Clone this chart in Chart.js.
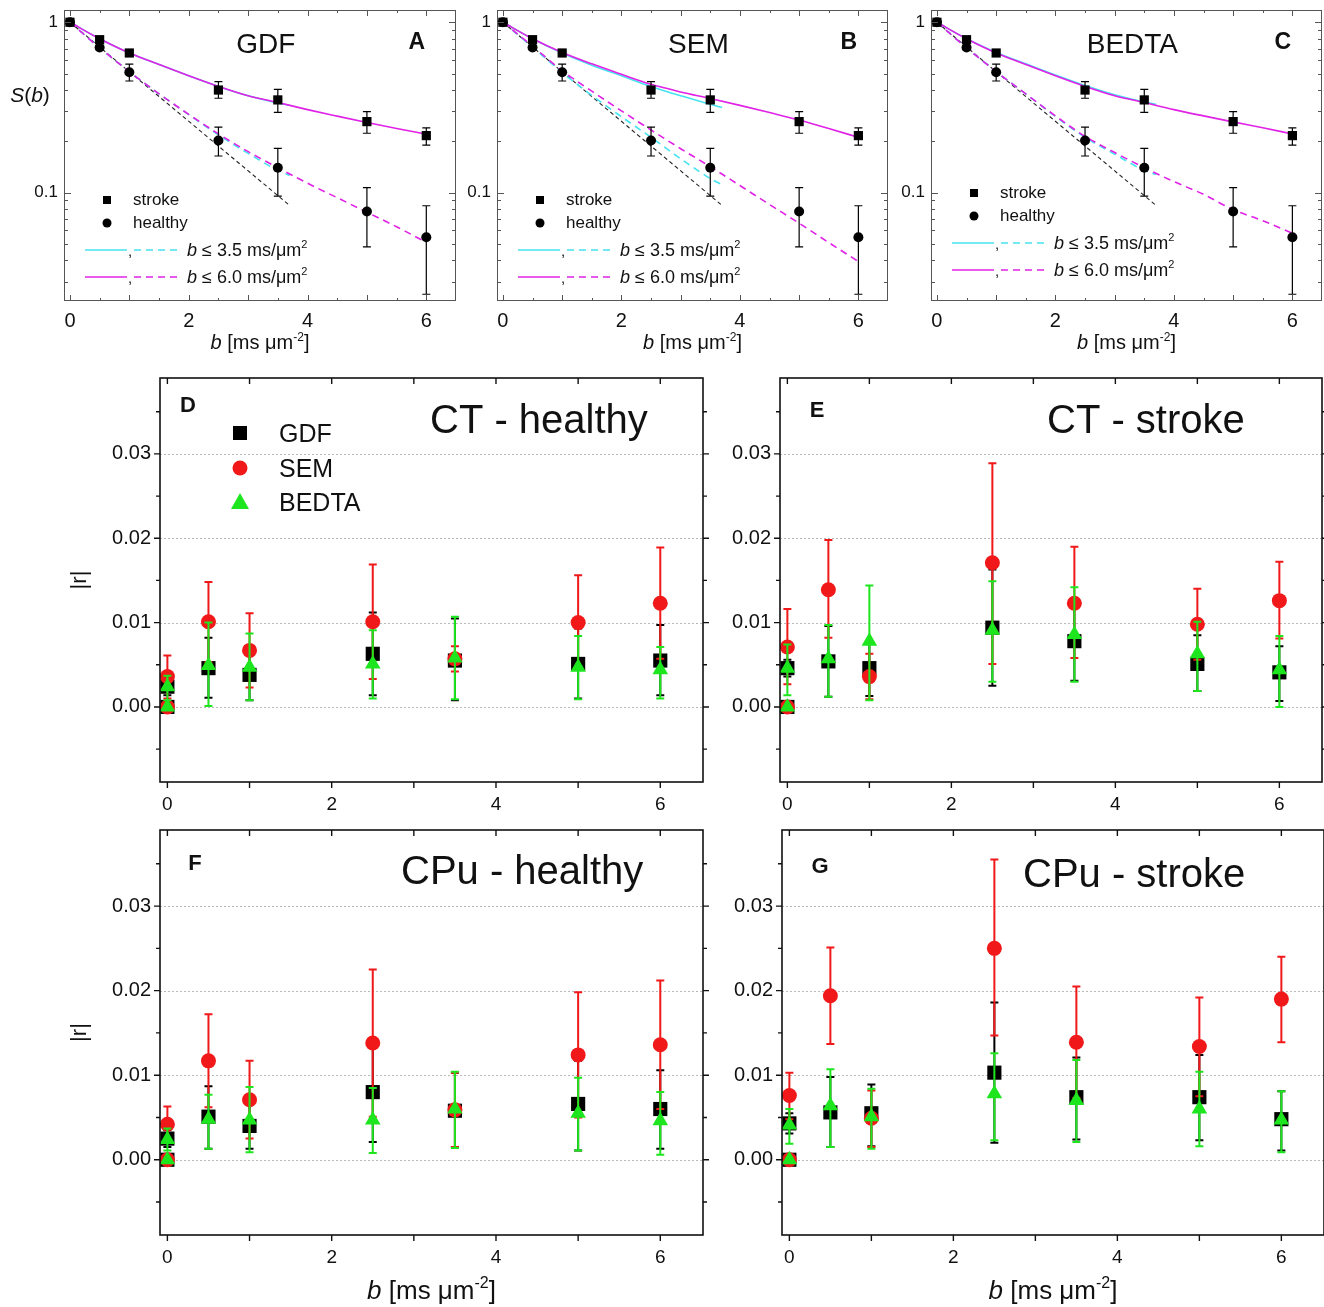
<!doctype html>
<html>
<head>
<meta charset="utf-8">
<title>S(b) fits and |r| per b-value</title>
<script src="https://cdn.jsdelivr.net/npm/chart.js@4.4.0/dist/chart.umd.min.js"></script>
<style>
  body { margin: 0; background: #fff; }
  .panel { position: absolute; }
</style>
</head>
<body>
<div class="panel" style="left:0px;top:0px"><canvas id="cA" width="460" height="360"></canvas></div>
<div class="panel" style="left:460px;top:0px"><canvas id="cB" width="430" height="360"></canvas></div>
<div class="panel" style="left:890px;top:0px"><canvas id="cC" width="434" height="360"></canvas></div>
<div class="panel" style="left:60px;top:370px"><canvas id="cD" width="650" height="455"></canvas></div>
<div class="panel" style="left:710px;top:370px"><canvas id="cE" width="614" height="455"></canvas></div>
<div class="panel" style="left:60px;top:825px"><canvas id="cF" width="650" height="482"></canvas></div>
<div class="panel" style="left:710px;top:825px"><canvas id="cG" width="614" height="482"></canvas></div>
<script>
var FONT = '"Liberation Sans", Arial, Helvetica, sans-serif';
var CYAN = '#45e3f0';
var MAGENTA = '#e022e6';
var RED = '#f01818';
var GREEN = '#1ee61e';

// ---- top row: signal S(b), measured points (same in A, B, C)
var bValues = [0, 0.5, 1, 2.5, 3.5, 5, 6];
var strokeS = [1, 0.79, 0.66, 0.40, 0.35, 0.261, 0.216];
var strokeLo = [1, 0.77, 0.64, 0.358, 0.296, 0.223, 0.19];
var strokeHi = [1, 0.81, 0.68, 0.448, 0.404, 0.299, 0.24];
var healthyS = [1, 0.71, 0.509, 0.202, 0.140, 0.0774, 0.0547];
var healthyLo = [1, 0.69, 0.452, 0.164, 0.0954, 0.048, 0.0253];
var healthyHi = [1, 0.73, 0.567, 0.242, 0.182, 0.107, 0.0837];

// fitted curves
var fitB6 = [0, 0.5, 1, 1.5, 2, 2.5, 3, 3.5, 4, 4.5, 5, 5.5, 6];
var fitB35 = [0, 0.5, 1, 1.5, 2, 2.5, 3, 3.5, 3.7];
var gdfStroke6 = [1, 0.80, 0.66, 0.565, 0.485, 0.42, 0.37, 0.338, 0.307, 0.281, 0.258, 0.238, 0.22];
var gdfStroke35 = [1, 0.80, 0.66, 0.565, 0.485, 0.42, 0.37, 0.336, 0.325];
var gdfHealthy6 = [1, 0.708, 0.513, 0.38, 0.288, 0.221, 0.174, 0.14, 0.1135, 0.0933, 0.0767, 0.063, 0.051];
var gdfHealthy35 = [1, 0.708, 0.513, 0.38, 0.287, 0.218, 0.170, 0.135, 0.126];
var semStroke6 = [1, 0.80, 0.665, 0.57, 0.495, 0.432, 0.39, 0.357, 0.325, 0.295, 0.267, 0.238, 0.211];
var semStroke35 = [1, 0.80, 0.66, 0.56, 0.485, 0.42, 0.37, 0.33, 0.316];
var semHealthy6 = [1, 0.724, 0.519, 0.394, 0.302, 0.233, 0.181, 0.142, 0.110, 0.0851, 0.0661, 0.0509, 0.0394];
var semHealthy35 = [1, 0.716, 0.507, 0.372, 0.279, 0.211, 0.158, 0.121, 0.111];
var bedStroke6 = [1, 0.80, 0.66, 0.565, 0.485, 0.42, 0.37, 0.338, 0.307, 0.282, 0.26, 0.24, 0.221];
var bedStroke35 = [1, 0.80, 0.665, 0.57, 0.49, 0.425, 0.375, 0.34, 0.33];
var bedHealthy6 = [1, 0.708, 0.513, 0.38, 0.282, 0.214, 0.172, 0.14, 0.116, 0.0977, 0.0794, 0.0684, 0.0578];
var bedHealthy35 = [1, 0.708, 0.513, 0.38, 0.28, 0.211, 0.168, 0.135, 0.128];
var monoB = [0, 3.7];
var monoS = [1, 0.084];

var bTicks = [0, 2, 4, 6];
var sTicks = [0.1, 1];

// ---- bottom panels: |r| per b-value (two points at b = 0)
var bR = [0, 0, 0.5, 1, 2.5, 3.5, 5, 6];
var rTicks = [0, 0.01, 0.02, 0.03];
var rMinor = [-0.005, 0.005, 0.015, 0.025, 0.035];

var gdfCTh = [0, 0.0024, 0.0046, 0.0038, 0.0063, 0.0055, 0.0051, 0.0055];
var gdfCThLo = [0, 0.0014, 0.0011, 0.0008, 0.0014, 0.0008, 0.0010, 0.0014];
var gdfCThHi = [0, 0.0034, 0.0082, 0.0071, 0.0112, 0.0105, 0.0093, 0.0097];
var semCTh = [0, 0.0036, 0.0101, 0.0067, 0.0101, 0.0057, 0.0100, 0.0123];
var semCThLo = [0, 0.0010, 0.0053, 0.0023, 0.0033, 0.0042, 0.0044, 0.0057];
var semCThHi = [0, 0.0061, 0.0148, 0.0111, 0.0169, 0.0072, 0.0156, 0.0189];
var bedCTh = [0, 0.0024, 0.0049, 0.0047, 0.0051, 0.0058, 0.0047, 0.0044];
var bedCThLo = [0, 0.0008, 0.0001, 0.0008, 0.0010, 0.0009, 0.0009, 0.0010];
var bedCThHi = [0, 0.0037, 0.0100, 0.0087, 0.0091, 0.0107, 0.0084, 0.0071];

var gdfCTs = [0, 0.0046, 0.0054, 0.0046, 0.0094, 0.0078, 0.0051, 0.0041];
var gdfCTsLo = [0, 0.0036, 0.0012, 0.0013, 0.0025, 0.0031, 0.0019, 0.0007];
var gdfCTsHi = [0, 0.0056, 0.0096, 0.0075, 0.0163, 0.0125, 0.0085, 0.0072];
var semCTs = [0, 0.0071, 0.0139, 0.0036, 0.0171, 0.0123, 0.0098, 0.0126];
var semCTsLo = [0, 0.0027, 0.0082, 0.0009, 0.0051, 0.0058, 0.0056, 0.0081];
var semCTsHi = [0, 0.0116, 0.0198, 0.0063, 0.0289, 0.0190, 0.0140, 0.0172];
var bedCTs = [0, 0.0046, 0.0057, 0.0078, 0.0091, 0.0086, 0.0063, 0.0044];
var bedCTsLo = [0, 0.0014, 0.0012, 0.0008, 0.0030, 0.0030, 0.0019, 0.0000];
var bedCTsHi = [0, 0.0074, 0.0097, 0.0144, 0.0149, 0.0142, 0.0101, 0.0084];

var gdfCPh = [0, 0.0025, 0.0051, 0.0040, 0.0080, 0.0058, 0.0066, 0.0060];
var gdfCPhLo = [0, 0.0015, 0.0013, 0.0013, 0.0021, 0.0015, 0.0011, 0.0013];
var gdfCPhHi = [0, 0.0035, 0.0087, 0.0074, 0.0139, 0.0103, 0.0117, 0.0106];
var semCPh = [0, 0.0042, 0.0117, 0.0071, 0.0138, 0.0059, 0.0124, 0.0136];
var semCPhLo = [0, 0.0021, 0.0062, 0.0025, 0.0051, 0.0015, 0.0050, 0.0060];
var semCPhHi = [0, 0.0063, 0.0172, 0.0117, 0.0225, 0.0103, 0.0198, 0.0212];
var bedCPh = [0, 0.0024, 0.0048, 0.0047, 0.0047, 0.0060, 0.0055, 0.0046];
var bedCPhLo = [0, 0.0011, 0.0013, 0.0009, 0.0008, 0.0014, 0.0011, 0.0006];
var bedCPhHi = [0, 0.0037, 0.0077, 0.0086, 0.0085, 0.0104, 0.0097, 0.0080];

var gdfCPs = [0, 0.0043, 0.0056, 0.0055, 0.0103, 0.0074, 0.0074, 0.0048];
var gdfCPsLo = [0, 0.0031, 0.0015, 0.0016, 0.0020, 0.0024, 0.0023, 0.0011];
var gdfCPsHi = [0, 0.0055, 0.0098, 0.0089, 0.0186, 0.0121, 0.0124, 0.0081];
var semCPs = [0, 0.0076, 0.0194, 0.0049, 0.0250, 0.0139, 0.0134, 0.0190];
var semCPsLo = [0, 0.0048, 0.0137, 0.0015, 0.0147, 0.0073, 0.0075, 0.0139];
var semCPsHi = [0, 0.0103, 0.0251, 0.0082, 0.0355, 0.0205, 0.0192, 0.0240];
var bedCPs = [0, 0.0041, 0.0064, 0.0051, 0.0078, 0.0070, 0.0060, 0.0047];
var bedCPsLo = [0, 0.0019, 0.0015, 0.0013, 0.0023, 0.0021, 0.0016, 0.0009];
var bedCPsHi = [0, 0.0060, 0.0107, 0.0084, 0.0126, 0.0118, 0.0104, 0.0081];

// ---- helpers
function pts(xs, ys) {
  return xs.map(function(x, i) { return {x: x, y: ys[i]}; });
}

function curve(xs, ys, color, dash, order, width) {
  return {
    type: 'line', data: pts(xs, ys), borderColor: color, borderWidth: width || 1.6,
    borderDash: dash, pointRadius: 0, pointHoverRadius: 0, fill: false,
    cubicInterpolationMode: 'monotone', order: order
  };
}

function marks(xs, ys, lo, hi, style, radius, color, order) {
  return {
    type: 'scatter', data: pts(xs, ys), pointStyle: style, pointRadius: radius,
    pointHoverRadius: radius, backgroundColor: color, borderColor: color, borderWidth: 0,
    errLo: lo, errHi: hi, errColor: color, order: order, clip: false
  };
}

function errorBars(capHalf, lw) {
  return {
    id: 'errorBars',
    beforeDatasetDraw: function(chart, args) {
      var ds = chart.data.datasets[args.index];
      if (!ds.errLo) return;
      var ctx = chart.ctx, xs = chart.scales.x, ys = chart.scales.y, a = chart.chartArea;
      ctx.save();
      ctx.beginPath();
      ctx.rect(a.left, a.top, a.right - a.left, a.bottom - a.top);
      ctx.clip();
      ctx.strokeStyle = ds.errColor;
      ctx.lineWidth = lw;
      ds.data.forEach(function(p, i) {
        var lo = ds.errLo[i], hi = ds.errHi[i];
        if (lo === hi) return;
        var x = xs.getPixelForValue(p.x), y1 = ys.getPixelForValue(lo), y2 = ys.getPixelForValue(hi);
        ctx.beginPath();
        ctx.moveTo(x, y1); ctx.lineTo(x, y2);
        ctx.moveTo(x - capHalf, y1); ctx.lineTo(x + capHalf, y1);
        ctx.moveTo(x - capHalf, y2); ctx.lineTo(x + capHalf, y2);
        ctx.stroke();
      });
      ctx.restore();
    }
  };
}

// runs: [text, size, style, dy]
function drawRuns(ctx, runs, x, y, align) {
  var total = 0;
  runs.forEach(function(r) {
    ctx.font = (r[2] || '') + ' ' + r[1] + 'px ' + FONT;
    r.w = ctx.measureText(r[0]).width;
    total += r.w;
  });
  var cx = align === 'center' ? x - total / 2 : x;
  ctx.textAlign = 'left';
  ctx.textBaseline = 'alphabetic';
  runs.forEach(function(r) {
    ctx.font = (r[2] || '') + ' ' + r[1] + 'px ' + FONT;
    ctx.fillText(r[0], cx, y + (r[3] || 0));
    cx += r.w;
  });
}

function bTitle(size) {
  return [['b', size, 'italic'], [' [ms \u03bcm', size], ['-2', Math.round(size * 0.62), '', -size * 0.42], [']', size]];
}

function text(ctx, t, x, y, size, weight, align) {
  ctx.font = (weight || '') + ' ' + size + 'px ' + FONT;
  ctx.textAlign = align || 'left';
  ctx.textBaseline = 'middle';
  ctx.fillText(t, x, y);
}

// fixed axis sizes so every plot frame lands where the figure has it
function fixY(w) {
  return function(s) { s.width = w; s.paddingTop = 0; s.paddingBottom = 0; };
}
function fixX(h) {
  return function(s) { s.height = h; s.paddingLeft = 0; s.paddingRight = 0; };
}

// ---- top row panels
function topDecor(p) {
  return {
    id: 'decor',
    afterDraw: function(chart) {
      var ctx = chart.ctx, a = chart.chartArea, xs = chart.scales.x, ys = chart.scales.y;
      var w = a.right - a.left, h = a.bottom - a.top;
      ctx.save();
      ctx.strokeStyle = '#555';
      ctx.lineWidth = 1;
      ctx.strokeRect(Math.round(a.left) + 0.5, Math.round(a.top) + 0.5, Math.round(w) - 1, Math.round(h) - 1);
      ctx.beginPath();
      for (var v = 0; v <= 6; v += 0.5) {
        var px = Math.round(xs.getPixelForValue(v)) + 0.5, len = (v % 1 === 0) ? 6 : 3;
        ctx.moveTo(px, a.bottom); ctx.lineTo(px, a.bottom - len);
        ctx.moveTo(px, a.top); ctx.lineTo(px, a.top + len);
      }
      for (var d = 0.01; d < 2; d *= 10) {
        for (var k = 1; k <= 9; k++) {
          var val = d * k;
          if (val < ys.min || val > ys.max) continue;
          var py = Math.round(ys.getPixelForValue(val)) + 0.5, l2 = k === 1 ? 7 : 4;
          ctx.moveTo(a.left, py); ctx.lineTo(a.left + l2, py);
          ctx.moveTo(a.right, py); ctx.lineTo(a.right - l2, py);
        }
      }
      ctx.stroke();

      ctx.fillStyle = '#111';
      text(ctx, p.title, a.left + 0.515 * w, a.top + 35, 28, '', 'center');
      text(ctx, p.letter, a.left + 0.90 * w, a.top + 33, 23, 'bold', 'center');
      drawRuns(ctx, bTitle(20), (a.left + a.right) / 2, a.bottom + 48, 'center');
      if (p.yTitle) {
        drawRuns(ctx, [['S', 21, 'italic'], ['(', 21], ['b', 21, 'italic'], [')', 21]], 30, 102, 'center');
      }

      // legend
      var lx = a.left + 43, ly = a.top + p.legendDy;
      ctx.fillStyle = '#000';
      ctx.fillRect(lx - 4, ly - 4, 8, 8);
      ctx.beginPath(); ctx.arc(lx, ly + 23, 4.5, 0, Math.PI * 2); ctx.fill();
      ctx.fillStyle = '#111';
      text(ctx, 'stroke', lx + 26, ly, 17);
      text(ctx, 'healthy', lx + 26, ly + 23, 17);
      [[CYAN, '3.5', 50], [MAGENTA, '6.0', 77]].forEach(function(row) {
        var yy = ly + row[2];
        ctx.strokeStyle = row[0];
        ctx.lineWidth = 1.6;
        ctx.setLineDash([]);
        ctx.beginPath(); ctx.moveTo(lx - 22, yy); ctx.lineTo(lx + 20, yy); ctx.stroke();
        ctx.setLineDash([7, 5]);
        ctx.beginPath(); ctx.moveTo(lx + 27, yy); ctx.lineTo(lx + 70, yy); ctx.stroke();
        ctx.setLineDash([]);
        ctx.fillStyle = '#111';
        text(ctx, ',', lx + 21, yy + 2, 15);
        drawRuns(ctx, [['b', 18, 'italic'], [' \u2264 ' + row[1] + ' ms/\u03bcm', 18], ['2', 11, '', -8]], lx + 80, yy + 6, 'left');
      });
      ctx.restore();
    }
  };
}

function topChart(id, lay, fits, p) {
  var datasets = [
    curve(monoB, monoS, '#222', [4, 3], 6, 1.1),
    curve(fitB35, fits.s35, CYAN, [], 5),
    curve(fitB35, fits.h35, CYAN, [7, 5], 5),
    curve(fitB6, fits.s6, MAGENTA, [], 4),
    curve(fitB6, fits.h6, MAGENTA, [7, 5], 4),
    marks(bValues, healthyS, healthyLo, healthyHi, 'circle', 5, '#000', 1),
    marks(bValues, strokeS, strokeLo, strokeHi, 'rect', 6.5, '#000', 0)
  ];
  return new Chart(document.getElementById(id).getContext('2d'), {
    type: 'scatter',
    data: {datasets: datasets},
    options: {
      responsive: false, animation: false, events: [],
      layout: {autoPadding: false, padding: {top: lay.top, right: lay.right, left: 0, bottom: 0}},
      plugins: {legend: {display: false}, tooltip: {enabled: false}},
      scales: {
        x: {
          type: 'linear', min: -0.1, max: 6.5,
          afterBuildTicks: function(s) { s.ticks = bTicks.map(function(v) { return {value: v}; }); },
          afterFit: fixX(lay.xH),
          grid: {display: false, drawTicks: false, tickLength: 0},
          border: {display: false},
          ticks: {font: {family: FONT, size: 20}, color: '#111', padding: 8, maxRotation: 0,
            callback: function(v) { return String(v); }}
        },
        y: {
          type: 'logarithmic', min: 0.0231, max: 1.18,
          afterBuildTicks: function(s) { s.ticks = sTicks.map(function(v) { return {value: v}; }); },
          afterFit: fixY(lay.yW),
          grid: {display: false, drawTicks: false, tickLength: 0},
          border: {display: false},
          ticks: {font: {family: FONT, size: 17}, color: '#111', padding: 6,
            callback: function(v) { return String(v); }}
        }
      }
    },
    plugins: [errorBars(4, 1.2), topDecor(p)]
  });
}

// ---- |r| panels
function rDecor(p) {
  return {
    id: 'decor',
    beforeDatasetsDraw: function(chart) {
      var ctx = chart.ctx, a = chart.chartArea, ys = chart.scales.y;
      ctx.save();
      ctx.strokeStyle = '#b8b8b8';
      ctx.lineWidth = 1;
      ctx.setLineDash([2, 2]);
      rTicks.forEach(function(v) {
        var py = Math.round(ys.getPixelForValue(v)) + 0.5;
        ctx.beginPath(); ctx.moveTo(a.left, py); ctx.lineTo(a.right, py); ctx.stroke();
      });
      ctx.restore();
    },
    afterDraw: function(chart) {
      var ctx = chart.ctx, a = chart.chartArea, xs = chart.scales.x, ys = chart.scales.y;
      var w = a.right - a.left;
      ctx.save();
      ctx.strokeStyle = '#111';
      ctx.lineWidth = 1.6;
      ctx.strokeRect(a.left, a.top, w, a.bottom - a.top);
      ctx.lineWidth = 1.4;
      ctx.beginPath();
      for (var v = 0; v <= 6; v++) {
        var px = xs.getPixelForValue(v);
        ctx.moveTo(px, a.bottom); ctx.lineTo(px, a.bottom + 6);
        ctx.moveTo(px, a.top); ctx.lineTo(px, a.top + 6);
      }
      rTicks.concat(rMinor).forEach(function(v, i) {
        var py = ys.getPixelForValue(v), len = i < rTicks.length ? 6 : 4;
        ctx.moveTo(a.left, py); ctx.lineTo(a.left - len, py);
        ctx.moveTo(a.right, py); ctx.lineTo(a.right + len, py);
      });
      ctx.stroke();

      ctx.fillStyle = '#111';
      text(ctx, p.letter, a.left + p.letterX, a.top + p.letterY, 22, 'bold', 'center');
      text(ctx, p.title, a.left + p.titleX, a.top + p.titleY, 40, '', 'left');
      if (p.legend) {
        var lx = a.left + 80, ly = a.top + 55;
        ctx.fillStyle = '#000';
        ctx.fillRect(lx - 7, ly - 7, 14, 14);
        ctx.fillStyle = RED;
        ctx.beginPath(); ctx.arc(lx, ly + 35, 7.5, 0, Math.PI * 2); ctx.fill();
        ctx.fillStyle = GREEN;
        ctx.beginPath();
        ctx.moveTo(lx, ly + 60); ctx.lineTo(lx + 9, ly + 76); ctx.lineTo(lx - 9, ly + 76);
        ctx.closePath(); ctx.fill();
        ctx.fillStyle = '#111';
        text(ctx, 'GDF', lx + 39, ly + 2, 25);
        text(ctx, 'SEM', lx + 39, ly + 37, 25);
        text(ctx, 'BEDTA', lx + 39, ly + 71, 25);
      }
      if (p.yTitle) {
        ctx.save();
        ctx.translate(20, (a.top + a.bottom) / 2);
        ctx.rotate(-Math.PI / 2);
        text(ctx, '|r|', 0, 0, 22, '', 'center');
        ctx.restore();
      }
      if (p.xTitle) {
        drawRuns(ctx, bTitle(26), (a.left + a.right) / 2, a.bottom + 64, 'center');
      }
      ctx.restore();
    }
  };
}

function rChart(id, lay, s, p) {
  var datasets = [
    marks(bR, s.gdf, s.gdfLo, s.gdfHi, 'rect', 10, '#000', 2),
    marks(bR, s.sem, s.semLo, s.semHi, 'circle', 7.5, RED, 1),
    marks(bR, s.bed, s.bedLo, s.bedHi, 'triangle', 9, GREEN, 0)
  ];
  return new Chart(document.getElementById(id).getContext('2d'), {
    type: 'scatter',
    data: {datasets: datasets},
    options: {
      responsive: false, animation: false, events: [],
      layout: {autoPadding: false, padding: {top: lay.top, right: lay.right, left: 0, bottom: 0}},
      plugins: {legend: {display: false}, tooltip: {enabled: false}},
      scales: {
        x: {
          type: 'linear', min: -0.09, max: 6.52,
          afterBuildTicks: function(sc) { sc.ticks = bTicks.map(function(v) { return {value: v}; }); },
          afterFit: fixX(lay.xH),
          grid: {display: false, drawTicks: false, tickLength: 0},
          border: {display: false},
          ticks: {font: {family: FONT, size: 19}, color: '#111', padding: 11, maxRotation: 0,
            callback: function(v) { return String(v); }}
        },
        y: {
          type: 'linear', min: -0.0089, max: 0.039,
          afterBuildTicks: function(sc) { sc.ticks = rTicks.map(function(v) { return {value: v}; }); },
          afterFit: fixY(lay.yW),
          grid: {display: false, drawTicks: false, tickLength: 0},
          border: {display: false},
          ticks: {font: {family: FONT, size: 20}, color: '#111', padding: 9,
            callback: function(v) { return v.toFixed(2); }}
        }
      }
    },
    plugins: [errorBars(4, 2), rDecor(p)]
  });
}

window.onload = function() {
  topChart('cA', {top: 10, right: 4, yW: 64, xH: 59},
    {s6: gdfStroke6, s35: gdfStroke35, h6: gdfHealthy6, h35: gdfHealthy35},
    {title: 'GDF', letter: 'A', yTitle: true, legendDy: 190});
  topChart('cB', {top: 10, right: 2, yW: 37, xH: 59},
    {s6: semStroke6, s35: semStroke35, h6: semHealthy6, h35: semHealthy35},
    {title: 'SEM', letter: 'B', legendDy: 190});
  topChart('cC', {top: 10, right: 2, yW: 41, xH: 59},
    {s6: bedStroke6, s35: bedStroke35, h6: bedHealthy6, h35: bedHealthy35},
    {title: 'BEDTA', letter: 'C', legendDy: 183});

  rChart('cD', {top: 8, right: 7, yW: 100, xH: 43},
    {gdf: gdfCTh, gdfLo: gdfCThLo, gdfHi: gdfCThHi, sem: semCTh, semLo: semCThLo, semHi: semCThHi,
     bed: bedCTh, bedLo: bedCThLo, bedHi: bedCThHi},
    {letter: 'D', letterX: 28, letterY: 28, title: 'CT - healthy', titleX: 270, titleY: 44, legend: true, yTitle: true});
  rChart('cE', {top: 8, right: 2, yW: 70, xH: 43},
    {gdf: gdfCTs, gdfLo: gdfCTsLo, gdfHi: gdfCTsHi, sem: semCTs, semLo: semCTsLo, semHi: semCTsHi,
     bed: bedCTs, bedLo: bedCTsLo, bedHi: bedCTsHi},
    {letter: 'E', letterX: 37, letterY: 33, title: 'CT - stroke', titleX: 267, titleY: 44});
  rChart('cF', {top: 5, right: 7, yW: 100, xH: 72},
    {gdf: gdfCPh, gdfLo: gdfCPhLo, gdfHi: gdfCPhHi, sem: semCPh, semLo: semCPhLo, semHi: semCPhHi,
     bed: bedCPh, bedLo: bedCPhLo, bedHi: bedCPhHi},
    {letter: 'F', letterX: 35, letterY: 34, title: 'CPu - healthy', titleX: 241, titleY: 43, yTitle: true, xTitle: true});
  rChart('cG', {top: 5, right: 0, yW: 72, xH: 72},
    {gdf: gdfCPs, gdfLo: gdfCPsLo, gdfHi: gdfCPsHi, sem: semCPs, semLo: semCPsLo, semHi: semCPsHi,
     bed: bedCPs, bedLo: bedCPsLo, bedHi: bedCPsHi},
    {letter: 'G', letterX: 38, letterY: 37, title: 'CPu - stroke', titleX: 241, titleY: 46, xTitle: true});
};
</script>
</body>
</html>
